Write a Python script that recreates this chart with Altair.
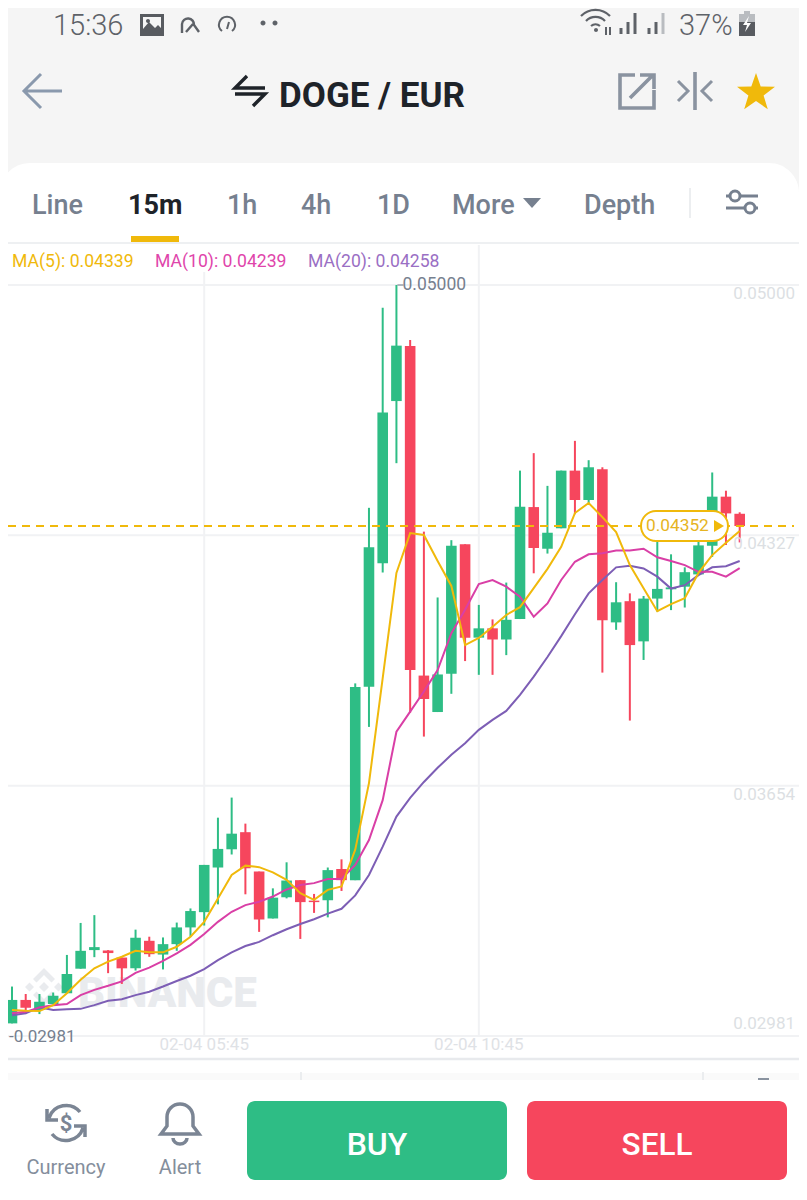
import altair as alt
import pandas as pd

# 15m candles
highs = [.03114,.03094,.03094,.03098,.03199,.03285,.03306,.03212,.03192,.03267,
         .03248,.03246,.03286,.03324,.03441,.03568,.03622,.03552,.03423,.03378,
         .03448,.03400,.03363,.03434,.03456,.03929,.04401,.04939,.05000,.04852,
         .04337,.04160,.04314,.04303,.04140,.04101,.04200,.04501,.04548,.04460,
         .04501,.04581,.04529,.04510,.04201,.04171,.04164,.04312,.04276,.04241,
         .04314,.04496,.04447,.04389]
lows = [.03015,.03040,.03040,.03067,.03096,.03162,.03193,.03150,.03121,.03157,
        .03194,.03160,.03210,.03248,.03278,.03335,.03469,.03362,.03261,.03297,
        .03351,.03242,.03312,.03300,.03371,.03400,.03812,.04227,.04521,.03850,
        .03786,.03852,.03901,.03989,.03952,.03952,.04005,.04102,.04225,.04278,
        .04346,.04384,.04411,.03958,.04073,.03829,.03992,.04122,.04126,.04133,
        .04222,.04269,.04301,.04308]
opens = [.03015,.03078,.03051,.03067,.03096,.03162,.03212,.03211,.03192,.03163,
         .03237,.03200,.03228,.03273,.03314,.03434,.03483,.03529,.03423,.03297,
         .03354,.03400,.03345,.03346,.03430,.03400,.03920,.04252,.04688,.04836,
         .03950,.03852,.03955,.04303,.04052,.04077,.04047,.04102,.04403,.04291,
         .04346,.04501,.04422,.04505,.04093,.04150,.04042,.04157,.04182,.04189,
         .04222,.04299,.04431,.04385]
closes = [.03078,.03057,.03073,.03089,.03148,.03210,.03220,.03204,.03163,.03245,
          .03201,.03228,.03273,.03317,.03441,.03484,.03525,.03432,.03294,.03353,
          .03399,.03341,.03341,.03427,.03400,.03919,.04295,.04657,.04837,.03965,
          .03887,.03953,.04299,.04052,.04077,.04047,.04100,.04404,.04293,.04334,
          .04501,.04422,.04510,.04099,.04147,.04032,.04157,.04183,.04187,.04228,
          .04300,.04431,.04386,.04352]

ma5 = [.03051,.03049,.03048,.03064,.03096,.03132,.03163,.03181,.03194,.03210,
       .03206,.03206,.03221,.03248,.03288,.03351,.03414,.03439,.03435,.03421,
       .03401,.03365,.03347,.03374,.03383,.03482,.03661,.03943,.04226,.04333,
       .04328,.04258,.04191,.04032,.04051,.04081,.04113,.04134,.04185,.04237,
       .04296,.04387,.04414,.04376,.04336,.04247,.04185,.04123,.04142,.04158,
       .04226,.04274,.04307,.04339]
ma10 = [.03042,.03046,.03058,.03064,.03067,.03091,.03105,.03116,.03128,.03151,
        .03165,.03183,.03203,.03226,.03255,.03288,.03315,.03333,.03342,.03356,
        .03375,.03387,.03392,.03403,.03403,.03441,.03508,.03615,.03799,.03853,
        .03907,.03965,.04064,.04127,.04196,.04207,.04189,.04162,.04108,.04144,
        .04207,.04256,.04276,.04279,.04286,.04286,.04291,.04268,.04258,.04247,
        .04229,.04229,.04216,.04239]
ma20 = [.03037,.03042,.03058,.03051,.03053,.03054,.03064,.03076,.03080,.03091,
        .03100,.03114,.03129,.03143,.03161,.03185,.03206,.03223,.03234,.03252,
        .03268,.03282,.03295,.03310,.03323,.03359,.03414,.03490,.03571,.03621,
        .03664,.03702,.03737,.03768,.03804,.03831,.03855,.03898,.03947,.04000,
        .04056,.04115,.04171,.04207,.04241,.04245,.04238,.04216,.04184,.04193,
        .04220,.04241,.04244,.04258]

grid_prices = [.05000, .04327, .03654, .02981]
grid_labels = ["0.05000", "0.04327", "0.03654", "0.02981"]
tick_idx = [14, 34]
tick_labels = ["02-04 05:45", "02-04 10:45"]
last_price = .04352
high_idx = 28

tabs = ["Line", "15m", "1h", "4h", "1D", "More", "Depth"]
legend_texts = ["MA(5): 0.04339", "MA(10): 0.04239", "MA(20): 0.04258"]

GREEN = "#2ebd85"
RED = "#f6465d"
YELLOW = "#f0b90b"
PINK = "#d93fa6"
PURPLE = "#7d5eb5"
GREY = "#76808f"
ICON = "#8a93a0"
DARK = "#1e2329"
FONT = "Roboto"

one = pd.DataFrame({"a": [0]})
# padding=0: bars otherwise pad a continuous x scale by their own width
xs = alt.Scale(domain=[-0.29, 57.32], padding=0, nice=False, zero=False)
ys = alt.Scale(domain=[.025778, .057447], zero=False, nice=False)


# chrome helpers, all in page pixels (chart sits 8px in from the page corner)
def box(x1, y1, x2, y2, color, **kw):
    return alt.Chart(one).mark_rect(color=color, **kw).encode(
        x=alt.value(x1 - 8), x2=alt.value(x2 - 8), y=alt.value(y1 - 8), y2=alt.value(y2 - 8))


def seg(x1, y1, x2, y2, color, width=2, **kw):
    return alt.Chart(one).mark_rule(color=color, strokeWidth=width, **kw).encode(
        x=alt.value(x1 - 8), x2=alt.value(x2 - 8), y=alt.value(y1 - 8), y2=alt.value(y2 - 8))


def label(s, x, y, size, color, weight=400, align="left", font=FONT):
    return alt.Chart(one).mark_text(font=font, fontSize=size, fontWeight=weight, color=color,
                                    align=align, baseline="alphabetic").encode(
        x=alt.value(x - 8), y=alt.value(y - 8), text=alt.value(s))


def icon(path, x, y, stroke=None, fill=None, width=3):
    kw = {"strokeWidth": width}
    kw["stroke"] = stroke if stroke else "transparent"
    kw["fill"] = fill if fill else "transparent"
    return alt.Chart(one).mark_point(shape=path, size=4, opacity=1, filled=bool(fill), **kw).encode(
        x=alt.value(x - 8), y=alt.value(y - 8))


def dot(r):
    return f"M{-r},0 A{r},{r} 0 1 1 {r},0 A{r},{r} 0 1 1 {-r},0 Z"


layers = []

# page background and white panel
layers += [
    box(0, 0, 799, 1186, "#f5f5f5"),
    box(0, 163, 799, 1186, "#ffffff", cornerRadiusTopLeft=30, cornerRadiusTopRight=30),
]

# status bar
layers += [
    label("15:36", 53, 35, 29, "#5e6268", 300),
    icon("M-12,-11 H12 V11 H-12 Z M-9,-8 V4 L-3,-3 L3,3 L6,0 L9,3 V-8 Z M-6,-4 A2,2 0 1 1 -2,-4 A2,2 0 1 1 -6,-4 Z",
         152, 25, fill="#585b60"),
    icon("M-8,8 V-1 A6,6 0 1 1 4,0 L9,7 M-4,7 L3,-1", 190, 25, stroke="#5e6268", width=2.4),
    icon("M-5,6 A8,8 0 1 1 5,6 M0,4 L2,-3", 227, 25, stroke="#5e6268", width=2),
    icon(dot(2.5), 263, 23, fill="#5e6268"),
    icon(dot(2.5), 275, 23, fill="#5e6268"),
    icon("M-15,-5 A20,20 0 0 1 14,-5 M-10,0 A13,13 0 0 1 9,0 M-5,5 A7,7 0 0 1 4,5", 596, 21, stroke="#5e6268", width=2.2),
    icon(dot(2), 596, 30, fill="#5e6268"),
    seg(606, 27, 606, 35, "#5e6268", 2),
    seg(610, 27, 610, 35, "#5e6268", 2),
    seg(621, 28, 621, 34, "#5e6268", 3),
    seg(628, 22, 628, 34, "#5e6268", 3),
    seg(635, 13, 635, 34, "#5e6268", 3),
    seg(649, 28, 649, 34, "#5e6268", 3),
    seg(656, 22, 656, 34, "#5e6268", 3),
    seg(663, 13, 663, 34, "#b9bcc0", 3),
    label("37%", 679, 35, 29, "#5e6268", 300),
    box(744, 11, 750, 15, "#b9bcc0"),
    box(739, 14, 755, 22, "#b9bcc0"),
    box(739, 22, 755, 36, "#585b60"),
    icon("M2,-8 L-4,1 H0 L-2,8 L4,-1 H0 Z", 747, 24, fill="#ffffff"),
]

# title row
layers += [
    icon("M19,0 H-19 M-2,-17 L-19,0 L-2,17", 43, 91, stroke="#8a99ad", width=3),
    icon("M15,-3 H-15 L-3,-15 M-15,3 H15 L3,15", 250, 91, stroke=DARK, width=3.4),
    label("DOGE / EUR", 279, 107, 35, DARK, 700),
    icon("M-2,-16 H-17 V17 H17 V-1 M-7,7 L16,-16 M3,-16 H17 V-2", 637, 91, stroke=ICON, width=3.6),
    icon("M0,-19 V19", 695, 91, stroke=ICON, width=3.6),
    icon("M-17,-10 L-7,0 L-17,10 M17,-10 L7,0 L17,10", 695, 91, stroke=ICON, width=3),
    icon("M0,-20 L4.7,-6.5 L19,-6.2 L7.6,2.5 L11.8,16.2 L0,8 L-11.8,16.2 L-7.6,2.5 L-19,-6.2 L-4.7,-6.5 Z",
         756, 93, fill=YELLOW),
]

# tab row
tab_x = [32, 128, 227, 301, 377, 452, 584]
for name, x in zip(tabs, tab_x):
    layers.append(label(name, x, 214, 27, DARK if name == "15m" else GREY, 700 if name == "15m" else 500))
layers += [
    icon("M-9,-5 H9 L0,5 Z", 532, 203, fill=GREY),
    seg(690, 188, 690, 218, "#eceef0", 2),
    icon("M-16,-6 H-12 M-2,-6 H16 M-16,6 H3 M13,6 H16", 742, 202, stroke=GREY, width=3),
    icon("M-12,-6 A5,5 0 1 1 -2,-6 A5,5 0 1 1 -12,-6 Z", 742, 202, stroke=GREY, width=3),
    icon("M3,6 A5,5 0 1 1 13,6 A5,5 0 1 1 3,6 Z", 742, 202, stroke=GREY, width=3),
    box(131, 236, 179, 242, YELLOW),
    seg(0, 243, 799, 243, "#eef0f2", 2),
]

# grid, drawn through the price and candle scales
grid = pd.DataFrame({"price": grid_prices, "text": grid_labels})
ticks = pd.DataFrame({"idx": tick_idx, "text": tick_labels})
layers += [
    alt.Chart(grid).mark_rule(color="#f1f2f4", strokeWidth=2).encode(
        y=alt.Y("price:Q", scale=ys, axis=None), x=alt.value(0), x2=alt.value(791)),
    alt.Chart(ticks).mark_rule(color="#f1f2f4", strokeWidth=2).encode(
        x=alt.X("idx:Q", scale=xs, axis=None), y=alt.value(237), y2=alt.value(1028)),
    box(0, 245, 450, 272, "#ffffff"),
]

# moving average legend
for s, x, c in zip(legend_texts, [12, 155, 308], [YELLOW, "#df45ab", "#9a6fc4"]):
    layers.append(label(s, x, 267, 17.6, c))

# watermark
logo = ("M0,-5 L5,0 L0,5 L-5,0 Z M0,-19 L11,-8 L7.5,-4.5 L0,-12 L-7.5,-4.5 L-11,-8 Z "
        "M0,19 L11,8 L7.5,4.5 L0,12 L-7.5,4.5 L-11,8 Z "
        "M-14.5,-4.5 L-10,0 L-14.5,4.5 L-19,0 Z M14.5,-4.5 L19,0 L14.5,4.5 L10,0 Z")
layers += [
    icon(logo, 44, 987, fill="#e9ebee"),
    label("BINANCE", 78, 1007, 42, "#e9ebee", 900),
]

# candles
df = pd.DataFrame({"idx": range(len(opens)), "open": opens, "high": highs, "low": lows, "close": closes})
df["dir"] = ["up" if c >= o else "down" for o, c in zip(opens, closes)]
dir_color = alt.Color("dir:N", scale=alt.Scale(domain=["up", "down"], range=[GREEN, RED]), legend=None)
layers += [
    alt.Chart(df).mark_rule(strokeWidth=2).encode(
        x=alt.X("idx:Q", scale=xs, axis=None), y=alt.Y("high:Q", scale=ys, axis=None), y2="low:Q", color=dir_color),
    alt.Chart(df).mark_bar(size=10.6).encode(
        x=alt.X("idx:Q", scale=xs, axis=None), y=alt.Y("open:Q", scale=ys, axis=None), y2="close:Q", color=dir_color),
]

# moving averages
ma_df = pd.DataFrame({"idx": range(len(ma5)), "ma5": ma5, "ma10": ma10, "ma20": ma20})
for col, c in [("ma20", PURPLE), ("ma10", PINK), ("ma5", YELLOW)]:
    layers.append(alt.Chart(ma_df).mark_line(color=c, strokeWidth=2).encode(
        x=alt.X("idx:Q", scale=xs, axis=None), y=alt.Y(f"{col}:Q", scale=ys, axis=None)))

# last price line and pill
last = pd.DataFrame({"price": [last_price], "text": [f"{last_price:.5f}"]})
layers += [
    alt.Chart(last).mark_rule(color=YELLOW, strokeWidth=2, strokeDash=[8, 6]).encode(
        y=alt.Y("price:Q", scale=ys, axis=None), x=alt.value(0), x2=alt.value(786)),
    box(641, 511, 728, 541, "#ffffff", cornerRadius=15, stroke=YELLOW, strokeWidth=2),
    alt.Chart(last).mark_text(font=FONT, fontSize=17.3, color="#e6b422", align="left", baseline="middle").encode(
        x=alt.value(646 - 8), y=alt.Y("price:Q", scale=ys, axis=None), text="text:N"),
    icon("M-5,-6 L5,0 L-5,6 Z", 719, 526, fill=YELLOW),
]

# price labels on the grid
layers += [
    alt.Chart(grid[grid.price != .02981]).mark_text(font=FONT, fontSize=17, color="#dcdfe3", align="right", baseline="middle", dy=9).encode(
        y=alt.Y("price:Q", scale=ys, axis=None), x=alt.value(795 - 8), text="text:N"),
    alt.Chart(grid[grid.price == .02981]).mark_text(font=FONT, fontSize=17, color="#dcdfe3", align="right", baseline="middle", dy=-12).encode(
        y=alt.Y("price:Q", scale=ys, axis=None), x=alt.value(795 - 8), text="text:N"),
    alt.Chart(ticks).mark_text(font=FONT, fontSize=17, color="#dfe2e6", baseline="middle").encode(
        x=alt.X("idx:Q", scale=xs, axis=None), y=alt.value(1045 - 8), text="text:N"),
]

# high / low annotations
high_row = pd.DataFrame({"idx": [high_idx], "high": [highs[high_idx]], "text": [f"{highs[high_idx]:.5f}"]})
layers += [
    alt.Chart(high_row).mark_tick(color=GREY, thickness=1.5, size=6, orient="horizontal", xOffset=4).encode(
        x=alt.X("idx:Q", scale=xs, axis=None), y=alt.Y("high:Q", scale=ys, axis=None)),
    alt.Chart(high_row).mark_text(font=FONT, fontSize=17.5, color=GREY, align="left", baseline="middle", dx=6).encode(
        x=alt.X("idx:Q", scale=xs, axis=None), y=alt.Y("high:Q", scale=ys, axis=None), text="text:N"),
    label("-0.02981", 9, 1042, 17, GREY),
]

# bottom bar
layers += [
    seg(0, 1059, 799, 1059, "#e8eaed", 2.5),
    box(0, 1073, 799, 1080, "#fafafa"),
    seg(301, 1072, 301, 1080, "#e6e8eb", 1.5),
    seg(703, 1072, 703, 1080, "#e6e8eb", 1.5),
    seg(758, 1079, 769, 1079, "#8a93a0", 2),
    box(0, 1080, 799, 1186, "#ffffff"),
    icon("M-17,-5 A18,18 0 0 1 14,-11 M-19,-14 V-3 H-8 M17,5 A18,18 0 0 1 -14,11 M19,14 V3 H8", 66, 1123, stroke="#7b8594", width=3.5),
    label("$", 66, 1131, 22, "#7b8594", 700, align="center"),
    label("Currency", 66, 1174, 20, "#848e9c", 400, align="center"),
    icon("M-19,11 L-13,3 V-6 A13,13 0 0 1 13,-6 V3 L19,11 Z M-7,15 A7,6 0 0 0 7,15", 180, 1123, stroke="#7b8594", width=3.5),
    label("Alert", 180, 1174, 20, "#848e9c", 400, align="center"),
    box(247, 1101, 507, 1180, GREEN, cornerRadius=8),
    box(527, 1101, 787, 1180, RED, cornerRadius=8),
    label("BUY", 377, 1155, 32, "#ffffff", 500, align="center"),
    label("SELL", 657, 1155, 31.5, "#ffffff", 500, align="center"),
]

chart = alt.layer(*layers).properties(
    width=791, height=1178, padding=0, autosize=alt.AutoSizeParams(type="none")
).configure_view(stroke=None)

chart.save("out.html", embed_options={"renderer": "svg", "actions": False})
